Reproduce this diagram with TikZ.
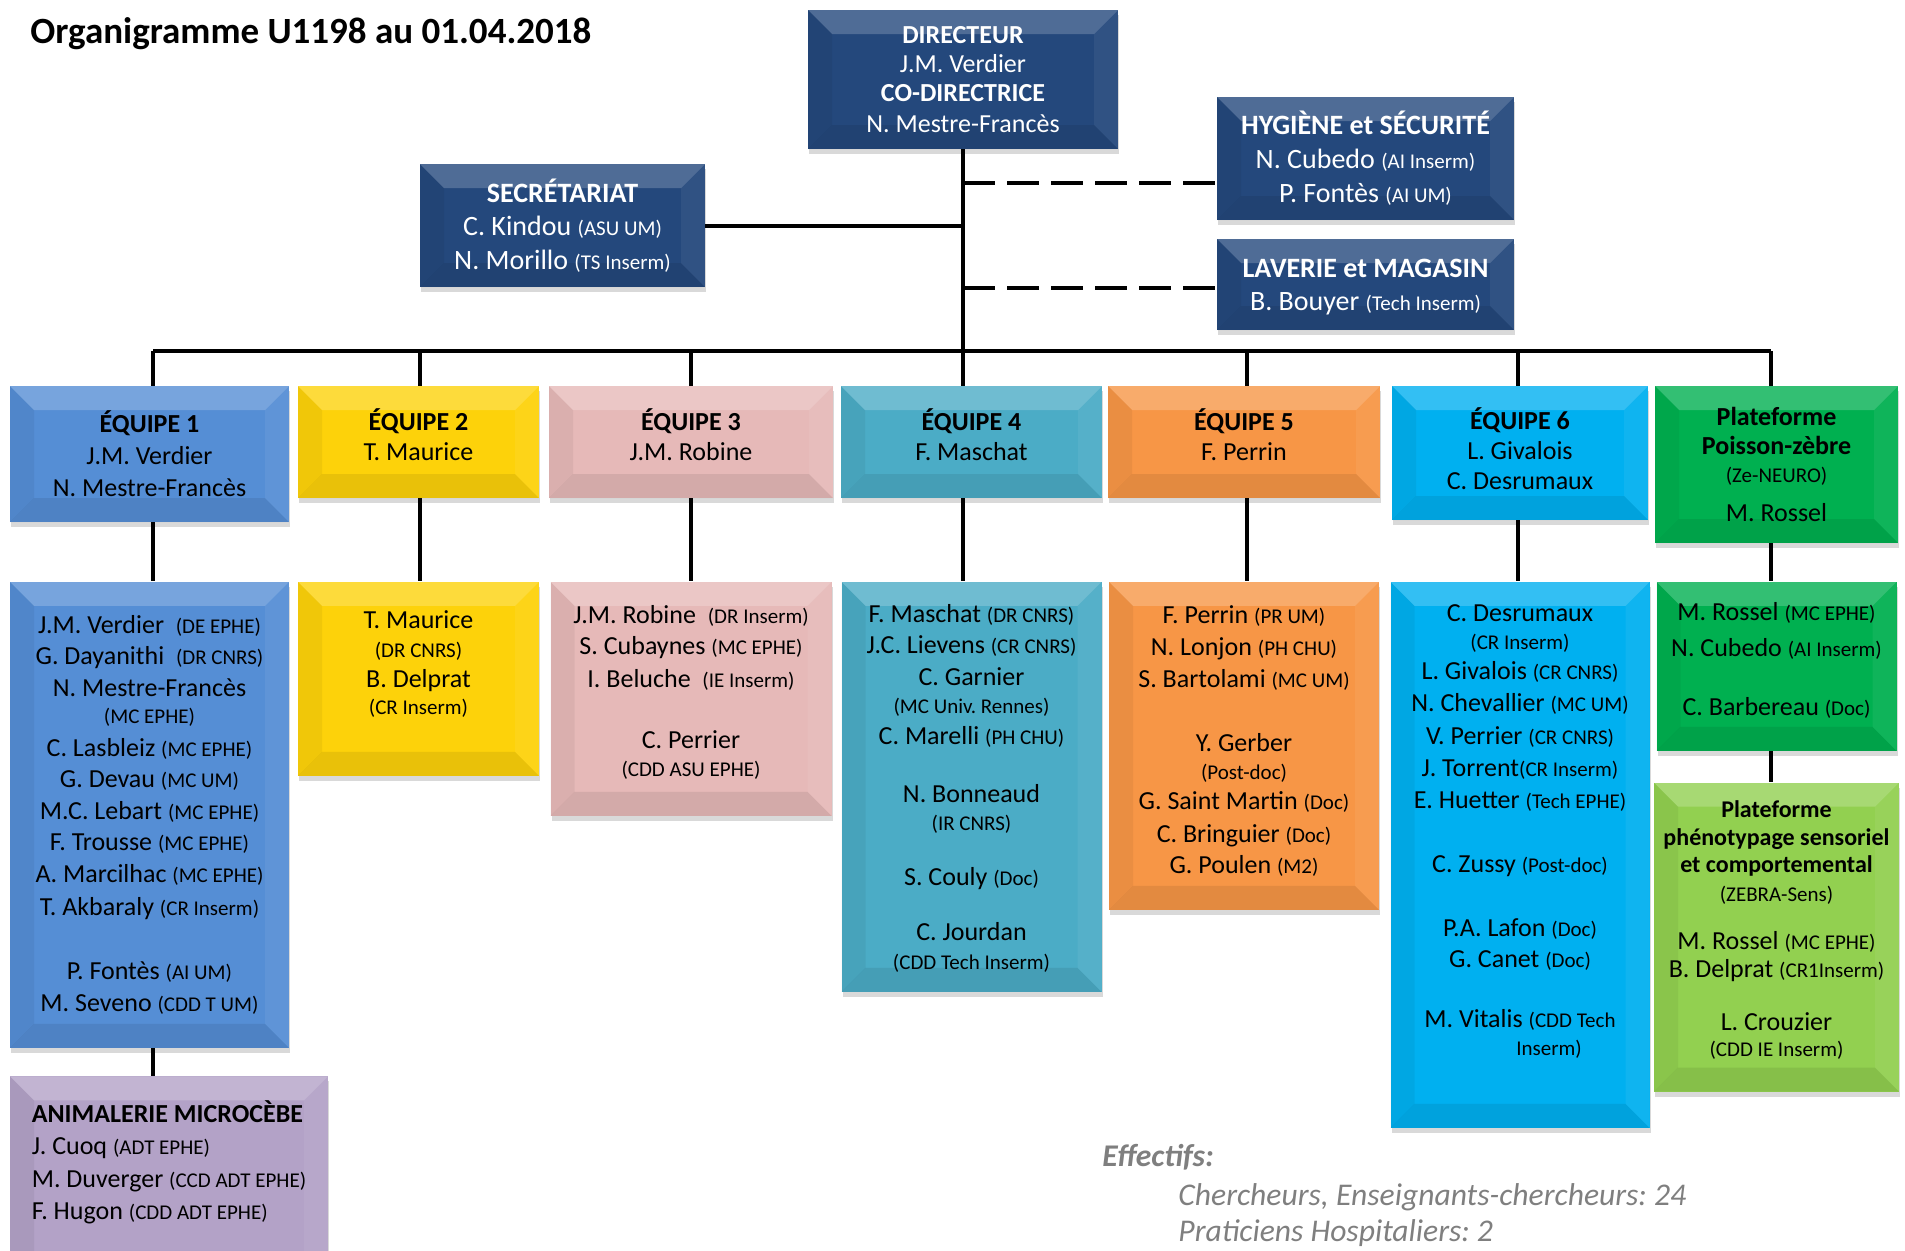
\documentclass[tikz,border=0pt]{standalone}
\usepackage{fontspec}
\setmainfont{Carlito}
\usepackage{xcolor}
\usepackage{tikz}
\usetikzlibrary{positioning, shadows}
\definecolor{dirblue}{HTML}{24487C}
\definecolor{eqone}{HTML}{558ED5}
\definecolor{eqtwo}{HTML}{FDD20A}
\definecolor{eqthree}{HTML}{E6B9B8}
\definecolor{eqfour}{HTML}{4BACC6}
\definecolor{eqfive}{HTML}{F79646}
\definecolor{eqsix}{HTML}{00B0F0}
\definecolor{zfgreen}{HTML}{00B050}
\definecolor{phenogreen}{HTML}{92D050}
\definecolor{animviolet}{HTML}{B3A2C7}
\definecolor{effgray}{HTML}{7F7F7F}
\newcommand{\statut}[1]{{\fontsize{10.5}{12}\selectfont #1}}
\newcommand{\titrepf}[1]{{\fontsize{12}{14}\selectfont\bfseries #1}}
\newcommand{\bev}{12pt}
\frenchspacing
\tikzset{
  box/.style={rectangle, inner sep=2pt, align=center,
    drop shadow={shadow xshift=0.5pt, shadow yshift=-2.5pt, opacity=.3},
    path picture={
      \path (path picture bounding box.north west) coordinate (bnw)
            (path picture bounding box.north east) coordinate (bne)
            (path picture bounding box.south west) coordinate (bsw)
            (path picture bounding box.south east) coordinate (bse);
      \fill[white, opacity=.2] (bnw) -- (bne) -- ([xshift=-\bev,yshift=-\bev]bne) -- ([xshift=\bev,yshift=-\bev]bnw) -- cycle;
      \fill[black, opacity=.05] (bnw) -- ([xshift=\bev,yshift=-\bev]bnw) -- ([xshift=\bev,yshift=\bev]bsw) -- (bsw) -- cycle;
      \fill[white, opacity=.06] (bne) -- ([xshift=-\bev,yshift=-\bev]bne) -- ([xshift=-\bev,yshift=\bev]bse) -- (bse) -- cycle;
      \fill[black, opacity=.08] (bsw) -- ([xshift=\bev,yshift=\bev]bsw) -- ([xshift=-\bev,yshift=\bev]bse) -- (bse) -- cycle;
    }},
  topbox/.style={box, fill=dirblue, text=white},
  teamhead/.style={box, font=\fontsize{13}{15}\selectfont},
  members/.style={box, font=\fontsize{13}{15.8}\selectfont},
  effline/.style={anchor=west, inner sep=0pt, text=effgray, font=\fontsize{15.8}{18}\selectfont\itshape},
  link/.style={line width=2pt},
  dashlink/.style={line width=2pt, dash pattern=on 16pt off 6pt},
}

\begin{document}
\begin{tikzpicture}[x=0.5pt, y=-0.5pt]
\useasboundingbox (0,0) rectangle (1905,1250);

\node[anchor=west, inner sep=0pt, font=\fontsize{18.5}{22}\selectfont\bfseries] (title) at (30,34) {Organigramme U1198 au 01.04.2018};

% direction et services
\node[topbox, font=\fontsize{13}{14.6}\selectfont, minimum width=155pt, minimum height=69.5pt] (dir) at (963,79.5)
  {\textbf{DIRECTEUR}\\J.M. Verdier\\\textbf{CO-DIRECTRICE}\\[0.6pt]N. Mestre-Francès};
\node[topbox, font=\fontsize{14}{16.7}\selectfont, minimum width=142.5pt, minimum height=61.5pt] (secr) at (562.5,225.5)
  {\textbf{SECRÉTARIAT}\\C. Kindou \statut{(ASU UM)}\\N. Morillo \statut{(TS Inserm)}};
\node[topbox, font=\fontsize{14}{17}\selectfont, minimum width=148.5pt, minimum height=61.5pt] (hyg) at (1365.5,158.5)
  {\textbf{HYGIÈNE et SÉCURITÉ}\\N. Cubedo \statut{(AI Inserm)}\\P. Fontès \statut{(AI UM)}};
\node[topbox, font=\fontsize{14}{16.5}\selectfont, minimum width=148.5pt, minimum height=45.5pt, text depth=0pt] (lav) at (1365.5,284.5)
  {\textbf{LAVERIE et MAGASIN}\\B. Bouyer \statut{(Tech Inserm)}};

% equipes
\node[teamhead, fill=eqone, minimum width=139.5pt, minimum height=68pt] (eq1) at (149.5,454)
  {\textbf{ÉQUIPE 1}\\[1pt]J.M. Verdier\\[1pt]N. Mestre-Francès};
\node[teamhead, fill=eqtwo, minimum width=120.5pt, minimum height=56pt, text depth=7.5pt] (eq2) at (418.5,442)
  {\textbf{ÉQUIPE 2}\\T. Maurice};
\node[teamhead, fill=eqthree, minimum width=142pt, minimum height=56pt, text depth=7.5pt] (eq3) at (691,442)
  {\textbf{ÉQUIPE 3}\\J.M. Robine};
\node[teamhead, fill=eqfour, minimum width=130.5pt, minimum height=56pt, text depth=7.5pt] (eq4) at (971.5,442)
  {\textbf{ÉQUIPE 4}\\F. Maschat};
\node[teamhead, fill=eqfive, minimum width=136pt, minimum height=56pt, text depth=7.5pt] (eq5) at (1244,442)
  {\textbf{ÉQUIPE 5}\\F. Perrin};
\node[teamhead, fill=eqsix, minimum width=128pt, minimum height=67pt, text depth=4.5pt] (eq6) at (1520,453)
  {\textbf{ÉQUIPE 6}\\L. Givalois\\C. Desrumaux};
\node[teamhead, fill=zfgreen, font=\fontsize{13}{14.5}\selectfont, minimum width=121.5pt, minimum height=78.5pt] (zf) at (1776.5,464.5)
  {\textbf{Plateforme}\\\textbf{Poisson-zèbre}\\[-0.5pt]\statut{(Ze-NEURO)}\\[5pt]M. Rossel};

% membres
\node[members, fill=eqone, minimum width=139.5pt, minimum height=233pt, below=29.5pt of eq1] (m1)
  {J.M. Verdier~ \statut{(DE EPHE)}\\
   G. Dayanithi~ \statut{(DR CNRS)}\\
   N. Mestre-Francès\\[-2.4pt]
   \statut{(MC EPHE)}\\[0.6pt]
   C. Lasbleiz \statut{(MC EPHE)}\\
   G. Devau \statut{(MC UM)}\\
   M.C. Lebart \statut{(MC EPHE)}\\
   F. Trousse \statut{(MC EPHE)}\\
   A. Marcilhac \statut{(MC EPHE)}\\[0.6pt]
   T. Akbaraly \statut{(CR Inserm)}\\[16.4pt]
   P. Fontès \statut{(AI UM)}\\
   M. Seveno \statut{(CDD T UM)}};
\node[members, fill=eqtwo, minimum width=120.5pt, minimum height=97pt, text depth=16.5pt, below=41.5pt of eq2] (m2)
  {T. Maurice\\[-1.2pt]\statut{(DR CNRS)}\\[-0.6pt]B. Delprat\\[-2.4pt]\statut{(CR Inserm)}};
\node[members, fill=eqthree, minimum width=140.5pt, minimum height=117pt, text depth=8pt, below=41.5pt of eq3] (m3)
  {J.M. Robine~ \statut{(DR Inserm)}\\S. Cubaynes \statut{(MC EPHE)}\\[0.6pt]I. Beluche~ \statut{(IE Inserm)}\\[14.6pt]C. Perrier\\[-1.8pt]\statut{(CDD ASU EPHE)}};
\node[members, fill=eqfour, minimum width=130pt, minimum height=205pt, text depth=0pt, below=41.5pt of eq4] (m4)
  {F. Maschat \statut{(DR CNRS)}\\J.C. Lievens \statut{(CR CNRS)}\\C. Garnier\\[-1.8pt]\statut{(MC Univ. Rennes)}\\C. Marelli \statut{(PH CHU)}\\[12.8pt]
   N. Bonneaud\\[-1.8pt]\statut{(IR CNRS)}\\[12.1pt]S. Couly \statut{(Doc)}\\[11.5pt]C. Jourdan\\[-1.2pt]\statut{(CDD Tech Inserm)}};
\node[members, fill=eqfive, minimum width=135pt, minimum height=164pt, text depth=6pt, below=41.5pt of eq5] (m5)
  {F. Perrin \statut{(PR UM)}\\N. Lonjon \statut{(PH CHU)}\\[0.6pt]S. Bartolami \statut{(MC UM)}\\[15.8pt]
   Y. Gerber\\[-1.8pt]\statut{(Post-doc)}\\[-0.6pt]G. Saint Martin \statut{(Doc)}\\[0.6pt]C. Bringuier \statut{(Doc)}\\G. Poulen \statut{(M2)}};
\node[members, fill=eqsix, minimum width=129.5pt, minimum height=273pt, text depth=25pt, below=30.5pt of eq6] (m6)
  {C. Desrumaux\\[-1.8pt]\statut{(CR Inserm)}\\[-0.6pt]L. Givalois \statut{(CR CNRS)}\\N. Chevallier \statut{(MC UM)}\\[0.6pt]
   V. Perrier \statut{(CR CNRS)}\\[0.6pt]J. Torrent\statut{(CR Inserm)}\\E. Huetter \statut{(Tech EPHE)}\\[16.4pt]
   C. Zussy \statut{(Post-doc)}\\[15.8pt]P.A. Lafon \statut{(Doc)}\\G. Canet \statut{(Doc)}\\[14pt]
   M. Vitalis \statut{(CDD Tech}\\[-1.8pt]\hspace*{29pt}\statut{Inserm)}};
\node[members, fill=zfgreen, minimum width=120pt, minimum height=84.5pt, text depth=7.5pt, below=19pt of zf] (mzf)
  {M. Rossel \statut{(MC EPHE)}\\[2.4pt]N. Cubedo \statut{(AI Inserm)}\\[13.4pt]C. Barbereau \statut{(Doc)}};
\node[members, fill=phenogreen, font=\fontsize{13}{14}\selectfont, minimum width=122.5pt, minimum height=154.5pt, text depth=8.5pt, below=15.5pt of mzf] (pheno)
  {\titrepf{Plateforme}\\\titrepf{phénotypage sensoriel}\\[-0.6pt]\titrepf{et comportemental}\\[0.6pt]\statut{(ZEBRA-Sens)}\\[9.7pt]
   M. Rossel \statut{(MC EPHE)}\\B. Delprat \statut{(CR1Inserm)}\\[12.7pt]L. Crouzier\\[-1.2pt]\statut{(CDD IE Inserm)}};
\node[box, fill=animviolet, anchor=north, align=left, minimum width=159pt, inner ysep=12pt, text depth=30pt,
  font=\fontsize{13}{16.2}\selectfont] (anim) at (169,1076)
  {\textbf{ANIMALERIE MICROCÈBE}\\J. Cuoq \statut{(ADT EPHE)}\\M. Duverger \statut{(CCD ADT EPHE)}\\F. Hugon \statut{(CDD ADT EPHE)}};

% effectifs
\node[effline, font=\fontsize{15.8}{18}\selectfont\bfseries\itshape] (eff) at (1102,1157) {Effectifs:};
\node[effline] (cherch) at (1178,1197) {Chercheurs, Enseignants-chercheurs: 24};
\node[effline] (prat) at (1178,1233) {Praticiens Hospitaliers: 2};

% liaisons
\coordinate (bus) at (0,351);
\coordinate (hygin) at ([yshift=-12pt]hyg.west);
\coordinate (lavin) at ([yshift=-1.5pt]lav.west);
\foreach \d/\x in {d1/153,d2/420,d3/691,d5/1247,d6/1518,d7/1771}
  \coordinate (\d) at (\x,351);
\draw[link] (dir.south) -- (dir.south |- eq4.north);
\draw[link] (secr.east) -- (secr.east -| dir.south);
\draw[dashlink] (hygin -| dir.south) -- (hygin);
\draw[dashlink] (lavin -| dir.south) -- (lavin);
\draw[link] (d1) -- (d7);
\foreach \d/\t/\m in {d1/eq1/m1,d2/eq2/m2,d3/eq3/m3,d5/eq5/m5,d6/eq6/m6,d7/zf/mzf}{
  \draw[link] (\d) -- (\d |- \t.north);
  \draw[link] (\d |- \t.south) -- (\d |- \m.north);
}
\draw[link] (dir.south |- eq4.south) -- (dir.south |- m4.north);
\draw[link] (d1 |- m1.south) -- (d1 |- anim.north);
\draw[link] (d7 |- mzf.south) -- (d7 |- pheno.north);
\end{tikzpicture}
\end{document}
